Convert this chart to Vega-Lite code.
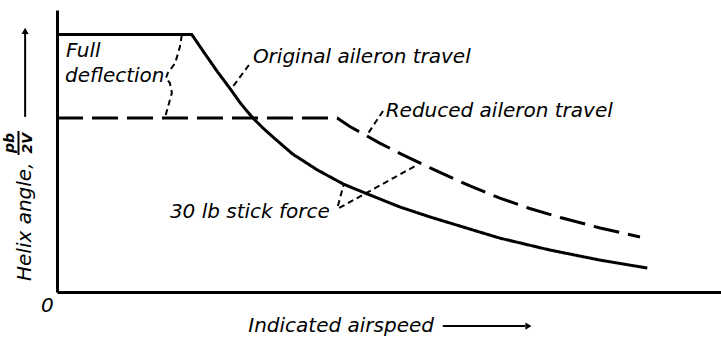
{
  "$schema": "https://vega.github.io/schema/vega-lite/v6.json",
  "width": 664,
  "height": 282,
  "autosize": {"type": "none"},
  "padding": {"left": 57, "top": 10, "right": 0, "bottom": 45},
  "background": "white",
  "config": {
    "view": {"stroke": null},
    "font": "DejaVu Sans",
    "text": {"font": "DejaVu Sans", "color": "black"}
  },
  "datasets": {
    "curves": [
      {"series": "Original aileron travel", "i": 0, "airspeed": 0, "helix": 91.3},
      {"series": "Original aileron travel", "i": 1, "airspeed": 20.3, "helix": 91.3},
      {"series": "Original aileron travel", "i": 2, "airspeed": 22.3, "helix": 84.4},
      {"series": "Original aileron travel", "i": 3, "airspeed": 24.2, "helix": 78.0},
      {"series": "Original aileron travel", "i": 4, "airspeed": 26.1, "helix": 72.0},
      {"series": "Original aileron travel", "i": 5, "airspeed": 27.7, "helix": 66.7},
      {"series": "Original aileron travel", "i": 6, "airspeed": 29.5, "helix": 61.7},
      {"series": "Original aileron travel", "i": 7, "airspeed": 31.0, "helix": 58.2},
      {"series": "Original aileron travel", "i": 8, "airspeed": 32.5, "helix": 55.0},
      {"series": "Original aileron travel", "i": 9, "airspeed": 35.5, "helix": 48.9},
      {"series": "Original aileron travel", "i": 10, "airspeed": 39.2, "helix": 43.3},
      {"series": "Original aileron travel", "i": 11, "airspeed": 43.1, "helix": 38.3},
      {"series": "Original aileron travel", "i": 12, "airspeed": 46.7, "helix": 34.8},
      {"series": "Original aileron travel", "i": 13, "airspeed": 51.7, "helix": 30.1},
      {"series": "Original aileron travel", "i": 14, "airspeed": 56.2, "helix": 26.6},
      {"series": "Original aileron travel", "i": 15, "airspeed": 62.2, "helix": 22.3},
      {"series": "Original aileron travel", "i": 16, "airspeed": 66.7, "helix": 19.1},
      {"series": "Original aileron travel", "i": 17, "airspeed": 74.2, "helix": 14.9},
      {"series": "Original aileron travel", "i": 18, "airspeed": 81.8, "helix": 11.3},
      {"series": "Original aileron travel", "i": 19, "airspeed": 88.9, "helix": 8.5},
      {"series": "Reduced aileron travel", "i": 0, "airspeed": 0, "helix": 61.7},
      {"series": "Reduced aileron travel", "i": 1, "airspeed": 42.2, "helix": 61.7},
      {"series": "Reduced aileron travel", "i": 2, "airspeed": 44.1, "helix": 58.7},
      {"series": "Reduced aileron travel", "i": 3, "airspeed": 46.4, "helix": 55.7},
      {"series": "Reduced aileron travel", "i": 4, "airspeed": 48.6, "helix": 52.8},
      {"series": "Reduced aileron travel", "i": 5, "airspeed": 51.7, "helix": 49.1},
      {"series": "Reduced aileron travel", "i": 6, "airspeed": 56.2, "helix": 44.0},
      {"series": "Reduced aileron travel", "i": 7, "airspeed": 62.2, "helix": 37.6},
      {"series": "Reduced aileron travel", "i": 8, "airspeed": 66.7, "helix": 33.3},
      {"series": "Reduced aileron travel", "i": 9, "airspeed": 71.2, "helix": 29.6},
      {"series": "Reduced aileron travel", "i": 10, "airspeed": 75.8, "helix": 26.4},
      {"series": "Reduced aileron travel", "i": 11, "airspeed": 81.8, "helix": 22.7},
      {"series": "Reduced aileron travel", "i": 12, "airspeed": 87.8, "helix": 19.5}
    ],
    "leaders": [
      {"leader": "full deflection", "i": 0, "airspeed": 18.8, "helix": 91.1},
      {"leader": "full deflection", "i": 1, "airspeed": 18.5, "helix": 86.9},
      {"leader": "full deflection", "i": 2, "airspeed": 17.8, "helix": 81.2},
      {"leader": "full deflection", "i": 3, "airspeed": 16.7, "helix": 77.7},
      {"leader": "full deflection", "i": 4, "airspeed": 16.4, "helix": 75.9},
      {"leader": "full deflection", "i": 5, "airspeed": 17.0, "helix": 74.1},
      {"leader": "full deflection", "i": 6, "airspeed": 17.3, "helix": 70.6},
      {"leader": "full deflection", "i": 7, "airspeed": 16.7, "helix": 65.6},
      {"leader": "full deflection", "i": 8, "airspeed": 16.3, "helix": 62.1},
      {"leader": "original", "i": 0, "airspeed": 28.9, "helix": 80.5},
      {"leader": "original", "i": 1, "airspeed": 26.1, "helix": 71.6},
      {"leader": "reduced", "i": 0, "airspeed": 49.1, "helix": 64.2},
      {"leader": "reduced", "i": 1, "airspeed": 46.7, "helix": 55.7},
      {"leader": "stick force to original", "i": 0, "airspeed": 42.3, "helix": 30.5},
      {"leader": "stick force to original", "i": 1, "airspeed": 43.2, "helix": 38.3},
      {"leader": "stick force to reduced", "i": 0, "airspeed": 42.5, "helix": 29.8},
      {"leader": "stick force to reduced", "i": 1, "airspeed": 54.2, "helix": 45.0}
    ],
    "labels": [
      {"label": "Full", "airspeed": 1.36, "helix": 83.3},
      {"label": "deflection", "airspeed": 1.2, "helix": 74.5},
      {"label": "Original aileron travel", "airspeed": 29.5, "helix": 81.2},
      {"label": "Reduced aileron travel", "airspeed": 49.5, "helix": 62.1},
      {"label": "30 lb stick force", "airspeed": 17.0, "helix": 26.2},
      {"label": "Indicated airspeed", "airspeed": 28.8, "helix": -14.2},
      {"label": "0", "airspeed": -2.4, "helix": -7.1}
    ],
    "ytitle": [
      {"label": "Helix angle,", "airspeed": -3.9, "helix": 3.9}
    ],
    "fraction": [
      {"label": "pb", "airspeed": -6.5, "helix": 52.8},
      {"label": "2V", "airspeed": -3.75, "helix": 52.8}
    ],
    "rules": [
      {"part": "fraction bar", "airspeed": -5.8, "helix": 57.1, "airspeed2": -5.8, "helix2": 48.6},
      {"part": "helix arrow", "airspeed": -4.8, "helix": 62.1, "airspeed2": -4.8, "helix2": 91.5},
      {"part": "airspeed arrow", "airspeed": 58.1, "helix": -12.1, "airspeed2": 70.5, "helix2": -12.1}
    ],
    "headUp": [{"airspeed": -4.8, "helix": 92.6}],
    "headRight": [{"airspeed": 71.0, "helix": -12.1}]
  },
  "encoding": {
    "x": {
      "field": "airspeed",
      "type": "quantitative",
      "scale": {"domain": [0, 100], "nice": false, "zero": false},
      "axis": {"title": null, "labels": false, "ticks": false, "grid": false, "domainWidth": 3, "domainColor": "black"}
    },
    "y": {
      "field": "helix",
      "type": "quantitative",
      "scale": {"domain": [0, 100], "nice": false, "zero": false},
      "axis": {"title": null, "labels": false, "ticks": false, "grid": false, "domainWidth": 3, "domainColor": "black"}
    }
  },
  "layer": [
    {
      "data": {"name": "curves"},
      "mark": {"type": "line", "color": "black", "strokeWidth": 3, "interpolate": "linear"},
      "encoding": {
        "detail": {"field": "series"},
        "order": {"field": "i", "type": "quantitative"},
        "strokeDash": {
          "field": "series",
          "type": "nominal",
          "scale": {"domain": ["Original aileron travel", "Reduced aileron travel"], "range": [[1, 0], [26, 9]]},
          "legend": null
        }
      }
    },
    {
      "data": {"name": "leaders"},
      "mark": {"type": "line", "color": "black", "strokeWidth": 2, "strokeDash": [6, 4]},
      "encoding": {
        "detail": {"field": "leader"},
        "order": {"field": "i", "type": "quantitative"}
      }
    },
    {
      "data": {"name": "rules"},
      "mark": {"type": "rule", "color": "black", "strokeWidth": 2},
      "encoding": {
        "x2": {"field": "airspeed2"},
        "y2": {"field": "helix2"}
      }
    },
    {
      "data": {"name": "headUp"},
      "mark": {"type": "point", "shape": "triangle-up", "size": 50, "filled": true, "color": "black", "opacity": 1}
    },
    {
      "data": {"name": "headRight"},
      "mark": {"type": "point", "shape": "triangle-right", "size": 50, "filled": true, "color": "black", "opacity": 1}
    },
    {
      "data": {"name": "labels"},
      "mark": {"type": "text", "align": "left", "baseline": "alphabetic", "fontSize": 20, "fontStyle": "italic"},
      "encoding": {"text": {"field": "label"}}
    },
    {
      "data": {"name": "ytitle"},
      "mark": {"type": "text", "angle": 270, "align": "left", "baseline": "alphabetic", "fontSize": 20, "fontStyle": "italic"},
      "encoding": {"text": {"field": "label"}}
    },
    {
      "data": {"name": "fraction"},
      "mark": {"type": "text", "angle": 270, "align": "center", "baseline": "alphabetic", "fontSize": 14, "fontStyle": "italic", "fontWeight": "bold"},
      "encoding": {"text": {"field": "label"}}
    }
  ]
}
